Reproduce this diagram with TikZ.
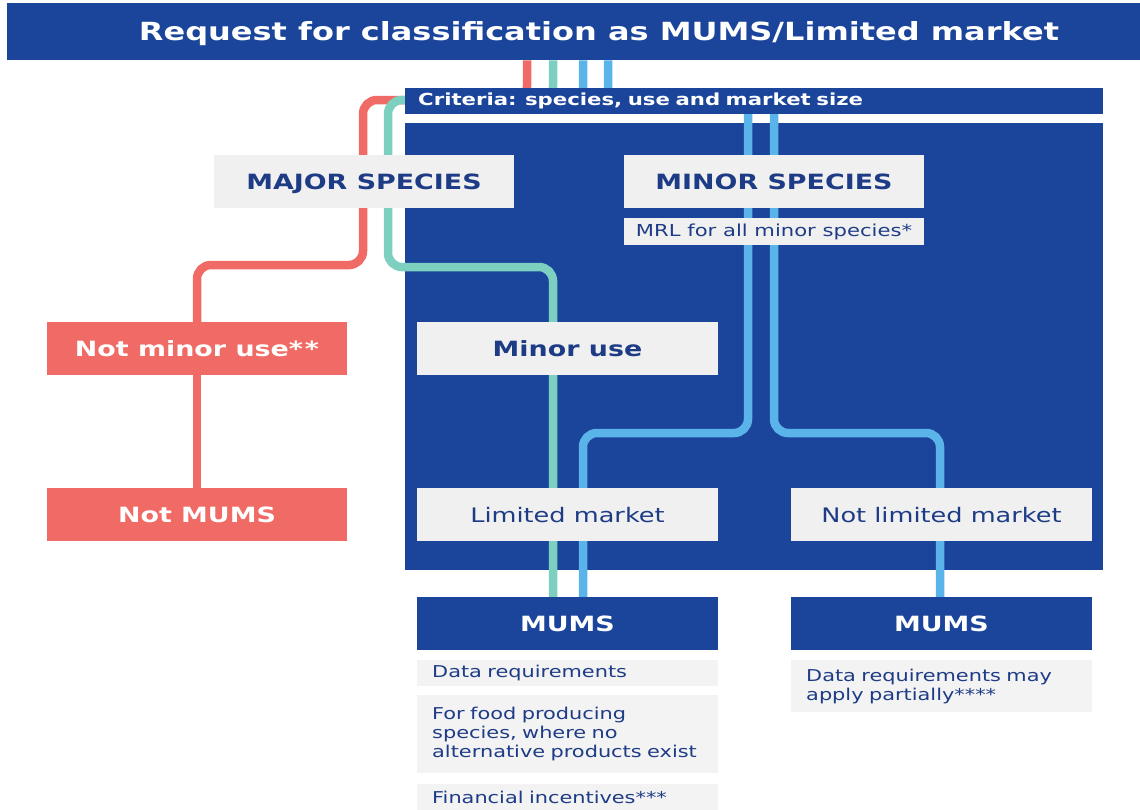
\documentclass[tikz,border=0pt]{standalone}
\usepackage{fontspec}
\setmainfont{DejaVu Sans}[FakeStretch=1.28]
\usetikzlibrary{calc}
\definecolor{navy}{HTML}{1B449B}
\definecolor{txtnavy}{HTML}{1E3C86}
\definecolor{lgray}{HTML}{F0F0F0}
\definecolor{lgraytwo}{HTML}{F3F3F3}
\definecolor{salmon}{HTML}{F06B65}
\definecolor{tealline}{HTML}{7DCFBF}
\definecolor{skyline}{HTML}{5AB4EA}
\pgfdeclarelayer{paper}
\pgfdeclarelayer{bottom}
\pgfdeclarelayer{mid}
\pgfsetlayers{paper,bottom,mid,main}
\begin{document}
\begin{tikzpicture}[x=1pt,y=-1pt,
 box/.style={rectangle, inner sep=0pt, minimum width=300pt, minimum height=53pt, align=center, text depth=0pt},
 lightbold/.style={box, fill=lgray, text=txtnavy, font=\fontsize{21}{25}\selectfont\bfseries},
 lightreg/.style={box, fill=lgray, text=txtnavy, font=\fontsize{20}{24}\selectfont},
 redbox/.style={box, fill=salmon, text=white, font=\fontsize{21}{25}\selectfont\bfseries},
 navybox/.style={box, fill=navy, text=white, font=\fontsize{21}{25}\selectfont\bfseries},
 note/.style={rectangle, fill=lgraytwo, text=txtnavy, inner xsep=15pt, inner ysep=0pt, text width=271pt, align=left, font=\fontsize{16.3}{19}\selectfont, anchor=north west},
 conn/.style={line width=8.5pt, rounded corners=14pt},
]
\begin{pgfonlayer}{paper}
\fill[white] (0,0) rectangle (1140,809);
\end{pgfonlayer}
\useasboundingbox (0,0) rectangle (1140,809);

% header
\node[fill=navy, minimum width=1133pt, minimum height=57pt, inner sep=0pt, anchor=north west] (headbg) at (7,3) {};
\node[text=white, font=\fontsize{25}{28}\selectfont\bfseries, inner sep=0pt] (header) at (599,34) {Request for classification as MUMS/Limited market};

% criteria bar
\node[fill=navy, text=white, font=\fontsize{16.6}{19}\selectfont\bfseries, anchor=north west, minimum height=26pt, inner xsep=13pt, inner ysep=0pt, text width=672pt, align=left] (crit) at (405,88) {Criteria: species, use and market size};

% big box
\begin{pgfonlayer}{bottom}
\node[fill=navy, minimum width=698pt, minimum height=447pt, anchor=north west, inner sep=0pt] (bigbox) at (405,123) {};
\end{pgfonlayer}

% boxes
\node[lightbold] (majsp) at (364,181.5) {MAJOR SPECIES};
\node[lightbold] (minsp) at (774,181.5) {MINOR SPECIES};
\node[lightreg, minimum height=27pt, text depth=, font=\fontsize{16.5}{19}\selectfont] (mrl) at (774,231.5) {MRL for all minor species*};
\node[redbox] (notminor) at (197,348.5) {Not minor use*\kern2pt*};
\node[lightbold, minimum width=301pt] (minoruse) at (567.5,348.5) {Minor use};
\node[redbox] (notmums) at (197,514.5) {Not MUMS};
\node[lightreg, minimum width=301pt] (limited) at (567.5,514.5) {Limited market};
\node[lightreg, minimum width=301pt] (notlimited) at (941.5,514.5) {Not limited market};
\node[navybox, minimum width=301pt] (mumsa) at (567.5,623.5) {MUMS};
\node[navybox, minimum width=301pt] (mumsb) at (941.5,623.5) {MUMS};
\node[note, minimum height=26pt] (datareq) at (417,660) {Data requirements};
\node[note, minimum height=78pt] (food) at (417,695) {For food producing\\species, where no\\alternative products exist};
\node[note, minimum height=27pt] (fin) at (417,784) {Financial incentives***};
\node[note, minimum height=52pt] (datareqb) at (791,660) {Data requirements may\\apply partially****};

% connectors
\begin{pgfonlayer}{mid}
\coordinate (hr) at ($(headbg.south west)+(520,0)$);
\coordinate (ht) at ($(headbg.south west)+(546,0)$);
\coordinate (hba) at ($(headbg.south west)+(576,0)$);
\coordinate (hbb) at ($(headbg.south west)+(601,0)$);
\draw[conn, salmon] (hr) -- (527,100) -- (363,100) -- (363,265) -- (197,265) -- (notminor.north);
\draw[conn, salmon] (notminor) -- (notmums);
\draw[conn, tealline] (ht) -- (553,100) -- (388,100) -- (388,267) -- (553,267) -- ([xshift=-14.5pt]mumsa.north);
\draw[conn, skyline] (hba) -- (583,100) -- (748,100) -- (748,433) -- (583,433) -- ([xshift=15.5pt]mumsa.north);
\draw[conn, skyline] (hbb) -- (608,100) -- (774,100) -- (774,433) -- (940,433) -- ([xshift=-1.5pt]mumsb.north);
\end{pgfonlayer}
\end{tikzpicture}
\end{document}
